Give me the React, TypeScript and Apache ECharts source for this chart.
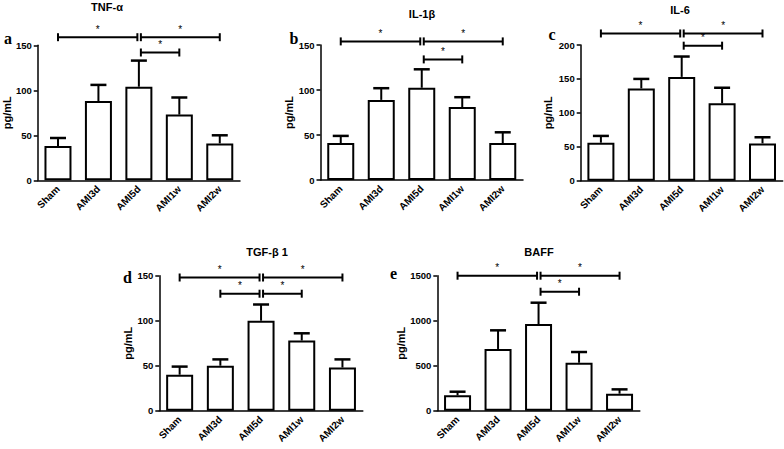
import React, { useEffect, useRef } from 'react';
import * as echarts from 'echarts';

const categories = ['Sham', 'AMI3d', 'AMI5d', 'AMI1w', 'AMI2w'];
const titles = ['TNF-α', 'IL-1β', 'IL-6', 'TGF-β 1', 'BAFF'];
const panelLetters = ['a', 'b', 'c', 'd', 'e'];

const tnfMean = [38, 88, 104, 73, 41];
const tnfSd = [9, 18, 29, 19, 9];
const il1Mean = [41, 89, 102.5, 81, 41];
const il1Sd = [8, 13, 20.5, 11, 12];
const il6Mean = [56, 136, 153, 114, 55];
const il6Sd = [10, 14, 30, 23, 9];
const tgfMean = [40, 50, 100, 78, 48];
const tgfSd = [9, 7, 18, 8, 9];
const baffMean = [171, 686, 963, 533, 189];
const baffSd = [40, 207, 237, 119, 48];

const yMaxes = [150, 150, 200, 150, 1500];
const ySteps = [50, 50, 50, 50, 500];

// significance brackets: [from category, to category, level]
const tnfBrackets = [[0, 2, 159], [2, 4, 159], [2, 3, 142]];
const il1Brackets = [[0, 2, 154], [2, 4, 154], [2, 3, 134]];
const il6Brackets = [[0, 2, 217], [2, 4, 217], [2, 3, 199]];
const tgfBrackets = [[0, 2, 148], [2, 4, 148], [1, 2, 130], [2, 3, 130]];
const baffBrackets = [[0, 2, 1500], [2, 4, 1500], [2, 3, 1322]];

const means = [tnfMean, il1Mean, il6Mean, tgfMean, baffMean];
const sds = [tnfSd, il1Sd, il6Sd, tgfSd, baffSd];
const brackets = [tnfBrackets, il1Brackets, il6Brackets, tgfBrackets, baffBrackets];

// layout (pixels)
const grids = [
  { left: 37, top: 45.3, width: 203, height: 135 },
  { left: 320.5, top: 45, width: 202.5, height: 135 },
  { left: 580.7, top: 45, width: 202, height: 135.7 },
  { left: 159.3, top: 275.7, width: 203.5, height: 135 },
  { left: 437.3, top: 275.7, width: 202.5, height: 135 },
];
const titlePos = [[107, 7], [422, 14], [680, 10], [267, 252], [539, 252]];
const letterPos = [[8, 30.5], [294, 30], [552, 26.5], [127.5, 269], [393.5, 265]];

const SANS = '"Liberation Sans", Arial, sans-serif';
const PIVOT = 2;

const renderErr = (params: any, api: any) => {
  const idx = api.value(0);
  const mean = api.value(1);
  const sd = api.value(2);
  const b = api.coord([idx, mean]);
  const t = api.coord([idx, mean + sd]);
  const ls = { stroke: '#000', lineWidth: 2 };
  return {
    type: 'group',
    children: [
      { type: 'line', shape: { x1: b[0], y1: b[1], x2: t[0], y2: t[1] }, style: ls },
      { type: 'line', shape: { x1: t[0] - 8, y1: t[1], x2: t[0] + 8, y2: t[1] }, style: { stroke: '#000', lineWidth: 2.5 } },
    ],
  };
};

const renderBracket = (params: any, api: any) => {
  const from = api.value(0);
  const to = api.value(1);
  const level = api.value(2);
  const p1 = api.coord([from, level]);
  const p2 = api.coord([to, level]);
  const x1 = p1[0] + (from === PIVOT ? 2 : 0);
  const x2 = p2[0] - (to === PIVOT ? 1.5 : 0);
  const y = p1[1];
  const h = 4;
  const ls = { stroke: '#000', lineWidth: 2 };
  return {
    type: 'group',
    children: [
      { type: 'line', shape: { x1, y1: y, x2, y2: y }, style: ls },
      { type: 'line', shape: { x1, y1: y - h, x2: x1, y2: y + h }, style: ls },
      { type: 'line', shape: { x1: x2, y1: y - h, x2, y2: y + h }, style: ls },
      {
        type: 'text',
        x: (x1 + x2) / 2,
        y: y - 8,
        style: { text: '*', align: 'center', verticalAlign: 'middle', font: `10px ${SANS}`, fill: '#000' },
      },
    ],
  };
};

export default function App() {
  const ref = useRef<HTMLDivElement>(null);
  useEffect(() => {
    if (!ref.current) return;
    const chart = echarts.init(ref.current, undefined, { renderer: 'svg' });
    const xAxis: any[] = [];
    const yAxis: any[] = [];
    const series: any[] = [];
    const graphic: any[] = [];
    grids.forEach((g, i) => {
      xAxis.push({
        type: 'category',
        gridIndex: i,
        data: categories,
        axisLine: { lineStyle: { color: '#000', width: 1.5 } },
        axisTick: { alignWithLabel: true, length: 3, lineStyle: { color: '#000', width: 1.5 } },
        axisLabel: {
          interval: 0,
          rotate: 45,
          margin: 7,
          color: '#000',
          fontWeight: 'bold',
          fontSize: 10,
          fontFamily: SANS,
        },
      });
      yAxis.push({
        type: 'value',
        gridIndex: i,
        min: 0,
        max: yMaxes[i],
        interval: ySteps[i],
        name: 'pg/mL',
        nameLocation: 'middle',
        nameRotate: 90,
        nameGap: i === 4 ? 31 : i === 2 ? 27 : 23,
        nameTextStyle: { color: '#000', fontWeight: 'bold', fontSize: 11, fontFamily: SANS },
        splitLine: { show: false },
        axisLine: { show: true, lineStyle: { color: '#000', width: 1.5 } },
        axisTick: { show: true, length: 4, lineStyle: { color: '#000', width: 1.5 } },
        axisLabel: {
          margin: 6,
          color: '#000',
          fontWeight: 'bold',
          fontSize: 9.5,
          fontFamily: SANS,
          formatter: (v: number) => String(v),
        },
      });
      series.push({
        type: 'bar',
        xAxisIndex: i,
        yAxisIndex: i,
        data: means[i],
        barWidth: 27,
        itemStyle: { color: '#fff', borderColor: '#000', borderWidth: 2 },
        silent: true,
      });
      series.push({
        type: 'custom',
        xAxisIndex: i,
        yAxisIndex: i,
        data: means[i].map((m, k) => [k, m, sds[i][k]]),
        encode: { x: 0, y: 1 },
        renderItem: renderErr,
        clip: false,
        silent: true,
        z: 3,
      });
      series.push({
        type: 'custom',
        xAxisIndex: i,
        yAxisIndex: i,
        data: brackets[i],
        encode: { x: 0, y: 2 },
        renderItem: renderBracket,
        clip: false,
        silent: true,
        z: 3,
      });
      graphic.push({
        type: 'text',
        x: titlePos[i][0],
        y: titlePos[i][1],
        style: {
          text: titles[i],
          align: 'center',
          verticalAlign: 'middle',
          font: `bold 11px ${SANS}`,
          fill: '#000',
        },
      });
      graphic.push({
        type: 'text',
        x: letterPos[i][0],
        y: letterPos[i][1],
        style: {
          text: panelLetters[i],
          align: 'center',
          verticalAlign: 'alphabetic',
          font: 'bold 16px "Liberation Serif", "Times New Roman", serif',
          fill: '#000',
        },
      });
    });
    chart.setOption({
      animation: false,
      backgroundColor: '#fff',
      grid: grids.map((g) => ({ ...g, containLabel: false })),
      xAxis,
      yAxis,
      series,
      graphic,
    });
    return () => chart.dispose();
  }, []);
  return (
    <div
      ref={ref}
      style={{ position: 'absolute', left: 0, top: 0, width: 784, height: 449 }}
    />
  );
}
